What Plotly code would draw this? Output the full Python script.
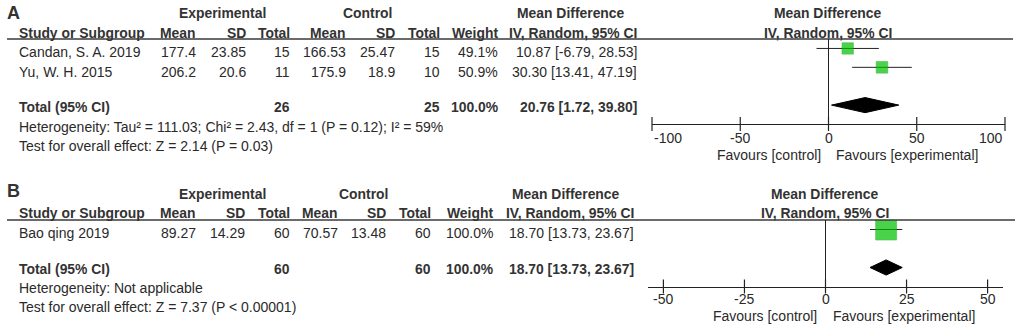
import plotly.graph_objects as go

# ---------------- data ----------------
# Panel A
studies_a = ["Candan, S. A. 2019", "Yu, W. H. 2015"]
exp_mean_a = [177.4, 206.2]
exp_sd_a = [23.85, 20.6]
exp_n_a = [15, 11]
ctl_mean_a = [166.53, 175.9]
ctl_sd_a = [25.47, 18.9]
ctl_n_a = [15, 10]
weight_a = [49.1, 50.9]
md_a = [10.87, 30.30]
lo_a = [-6.79, 13.41]
hi_a = [28.53, 47.19]
total_exp_n_a = 26
total_ctl_n_a = 25
total_md_a = [20.76, 1.72, 39.80]
het_a = "Heterogeneity: Tau² = 111.03; Chi² = 2.43, df = 1 (P = 0.12); I² = 59%"
test_a = "Test for overall effect: Z = 2.14 (P = 0.03)"
ticks_a = [-100, -50, 0, 50, 100]

# Panel B
studies_b = ["Bao qing 2019"]
exp_mean_b = [89.27]
exp_sd_b = [14.29]
exp_n_b = [60]
ctl_mean_b = [70.57]
ctl_sd_b = [13.48]
ctl_n_b = [60]
weight_b = [100.0]
md_b = [18.70]
lo_b = [13.73]
hi_b = [23.67]
total_exp_n_b = 60
total_ctl_n_b = 60
total_md_b = [18.70, 13.73, 23.67]
het_b = "Heterogeneity: Not applicable"
test_b = "Test for overall effect: Z = 7.37 (P < 0.00001)"
ticks_b = [-50, -25, 0, 25, 50]

col_headers = ["Mean", "SD", "Total", "Mean", "SD", "Total", "Weight", "IV, Random, 95% CI"]

# ---------------- layout helpers ----------------
W, H = 1021, 332
FONT = "Liberation Sans, Arial, sans-serif"
TXT = "#2a2a2a"
HDR = "#333333"


def px(x):
    return x / W


def py(y):
    return 1 - y / H


fig = go.Figure()
annotations = []
shapes = []


def txt(x, y, s, anchor="left", bold=False, size=None, xref="paper", xshift=0):
    annotations.append(dict(
        x=x if xref != "paper" else px(x), y=py(y), xref=xref, yref="paper",
        text=f"<b>{s}</b>" if bold else s, showarrow=False,
        xanchor=anchor, yanchor="middle", xshift=xshift,
        font=dict(family=FONT, size=size or (13.9 if bold else 14),
                  color=HDR if bold else TXT)))


def panel(k, letter, cfg, studies, em, esd, en, cm, csd, cn, w, md, lo, hi,
          ten, tcn, tot, het, test, ticks, rng, yr, sq_base, tick_anchor):
    xa = "x" if k == 1 else f"x{k}"
    ya = "y" if k == 1 else f"y{k}"
    cols = cfg["cols"]
    # letter & group headers
    txt(5, cfg["letter_y"], letter, bold=True, size=18)
    txt(cfg["exp_c"], cfg["hdr1"], "Experimental", "center", True)
    txt(cfg["ctl_c"], cfg["hdr1"], "Control", "center", True)
    txt(cfg["md_c"], cfg["hdr1"], "Mean Difference", "center", True)
    txt(cfg["fp_c"], cfg["hdr1"], "Mean Difference", "center", True)
    txt(17, cfg["hdr2"], "Study or Subgroup", bold=True)
    for c, h in zip(cols, col_headers):
        txt(c, cfg["hdr2"], h, "right", True)
    txt(cfg["fp_c"], cfg["hdr2"], "IV, Random, 95% CI", "center", True)
    # study rows
    for i, s in enumerate(studies):
        yy = cfg["rows"][i]
        txt(17, yy, s)
        vals = [f"{em[i]:g}", f"{esd[i]:g}", f"{en[i]}", f"{cm[i]:g}", f"{csd[i]:g}",
                f"{cn[i]}", f"{w[i]:.1f}%", f"{md[i]:.2f} [{lo[i]:.2f}, {hi[i]:.2f}]"]
        for c, v in zip(cols, vals):
            txt(c, yy, v, "right")
    # total row
    yt = cfg["total"]
    txt(17, yt, "Total (95% CI)", bold=True)
    txt(cols[2], yt, f"{ten}", "right", True)
    txt(cols[5], yt, f"{tcn}", "right", True)
    txt(cols[6], yt, f"{sum(w):.1f}%", "right", True)
    txt(cols[7], yt, f"{tot[0]:.2f} [{tot[1]:.2f}, {tot[2]:.2f}]", "right", True)
    txt(17, cfg["het"], het)
    txt(17, cfg["test"], test)

    # header rule
    shapes.append(dict(type="line", xref="paper", yref="paper",
                       x0=px(7), x1=px(cfg["rule_end"]), y0=py(cfg["rule"]), y1=py(cfg["rule"]),
                       line=dict(color="#3a3a3a", width=1.6)))
    # zero line
    shapes.append(dict(type="line", xref=xa, yref=f"{ya} domain", x0=0, x1=0, y0=0, y1=1,
                       line=dict(color="#222", width=1)))

    n = len(studies)
    rows_idx = list(range(1, n + 1))
    sizes = [sq_base * (wi / max(w)) ** 0.5 for wi in w]
    fig.add_trace(go.Scatter(
        x=md, y=rows_idx, xaxis=xa, yaxis=ya, mode="markers",
        marker=dict(symbol="square", size=sizes, color="#00c000",
                    line=dict(color="#00a000", width=0.6)),
        error_x=dict(type="data", symmetric=False,
                     array=[h - m for h, m in zip(hi, md)],
                     arrayminus=[m - l for m, l in zip(md, lo)],
                     color="#222", thickness=1, width=0),
        hoverinfo="skip"))
    # diamond
    tr = cfg["total_row"]
    hh = 0.4
    fig.add_trace(go.Scatter(
        x=[tot[1], tot[0], tot[2], tot[0], tot[1]],
        y=[tr, tr - hh, tr, tr + hh, tr], xaxis=xa, yaxis=ya,
        mode="lines", fill="toself", fillcolor="black",
        line=dict(color="black", width=1), hoverinfo="skip"))
    # tick marks crossing the axis line
    fig.add_trace(go.Scatter(
        x=ticks, y=[yr[0]] * len(ticks), xaxis=xa, yaxis=ya, mode="markers",
        marker=dict(symbol="line-ns", size=10, line=dict(color="#222", width=1.2)),
        cliponaxis=False, hoverinfo="skip"))
    # tick labels
    for t, a in zip(ticks, tick_anchor):
        txt(t, cfg["ticklab"], f"{t}", a, xref=xa)
    # favours labels
    txt(0, cfg["fav"], "Favours [control]", "right", xref=xa, xshift=cfg["fav_l"])
    txt(0, cfg["fav"], "Favours [experimental]", "left", xref=xa, xshift=cfg["fav_r"])

    fig.layout[f"xaxis{'' if k == 1 else k}"] = dict(
        domain=[px(cfg["ax_x0"]), px(cfg["ax_x1"])], range=rng, anchor=ya,
        showline=True, linecolor="#222", linewidth=1.2, ticks="",
        showticklabels=False, showgrid=False, zeroline=False, fixedrange=True)
    fig.layout[f"yaxis{'' if k == 1 else k}"] = dict(
        domain=[py(cfg["ax_y"]), py(cfg["rule"])], range=yr, anchor=xa,
        showline=False, showticklabels=False, showgrid=False, zeroline=False,
        ticks="", fixedrange=True)


cfg_a = dict(cols=[198, 248, 292, 348, 397, 442, 500, 639],
             exp_c=222, ctl_c=367, md_c=571, fp_c=828, letter_y=13.5,
             hdr1=13.5, hdr2=32.5, rows=[52, 72], total=107, het=127, test=146,
             rule=39, rule_end=1013, ax_y=124, ax_x0=652, ax_x1=1005,
             total_row=4, ticklab=138, fav=155, fav_l=-6, fav_r=5)
cfg_b = dict(cols=[198, 247, 292, 340, 388, 433, 495, 636],
             exp_c=222, ctl_c=363, md_c=566, fp_c=825, letter_y=191,
             hdr1=194, hdr2=213, rows=[233], total=269, het=288, test=307,
             rule=220, rule_end=1015, ax_y=286.5, ax_x0=648, ax_x1=1003,
             total_row=3, ticklab=299, fav=316, fav_l=-7, fav_r=5)

panel(1, "A", cfg_a, studies_a, exp_mean_a, exp_sd_a, exp_n_a, ctl_mean_a, ctl_sd_a,
      ctl_n_a, weight_a, md_a, lo_a, hi_a, total_exp_n_a, total_ctl_n_a, total_md_a,
      het_a, test_a, ticks_a, [-100, 100], [5, 0.5], 11.6,
      ["left", "center", "center", "center", "right"])
panel(2, "B", cfg_b, studies_b, exp_mean_b, exp_sd_b, exp_n_b, ctl_mean_b, ctl_sd_b,
      ctl_n_b, weight_b, md_b, lo_b, hi_b, total_exp_n_b, total_ctl_n_b, total_md_b,
      het_b, test_b, ticks_b, [-54.75, 54.75], [4, 0.5], 21,
      ["center"] * 5)

fig.update_layout(width=W, height=H, margin=dict(l=0, r=0, t=0, b=0),
                  paper_bgcolor="white", plot_bgcolor="white", showlegend=False,
                  annotations=annotations, shapes=shapes,
                  font=dict(family=FONT, color=TXT))

fig.write_html("out.html", config={"displayModeBar": False, "staticPlot": True},
               post_script="document.body.style.margin='0';document.body.style.overflow='hidden';")
